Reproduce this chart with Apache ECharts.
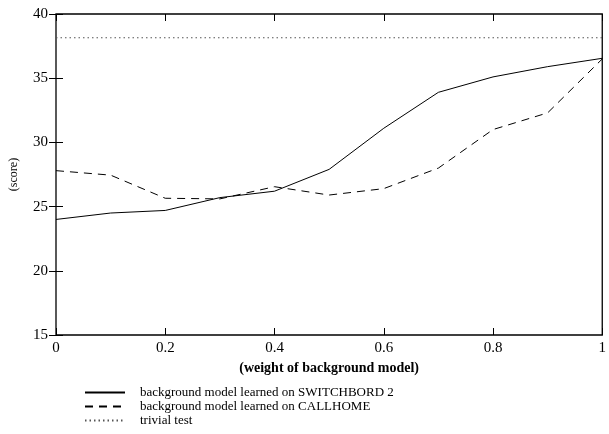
<!DOCTYPE html>
<html>
<head>
<meta charset="utf-8">
<script src="https://cdn.jsdelivr.net/npm/echarts@6/dist/echarts.min.js"></script>
<style>html,body{margin:0;padding:0;background:#fff;}#c{width:609px;height:434px;}</style>
</head>
<body>
<div id="c"></div>
<script>
var weights = [0, 0.1, 0.2, 0.3, 0.4, 0.5, 0.6, 0.7, 0.8, 0.9, 1.0];
var switchboard = [24.0, 24.5, 24.7, 25.7, 26.2, 27.9, 31.1, 33.9, 35.1, 35.9, 36.55];
var callhome = [27.8, 27.45, 25.65, 25.6, 26.55, 25.9, 26.4, 28.0, 31.0, 32.3, 36.5];
var trivialScore = 38.15;
var xTicks = [0, 0.2, 0.4, 0.6, 0.8, 1];
var yTicks = [15, 20, 25, 30, 35, 40];
var names = ['background model learned on SWITCHBORD 2', 'background model learned on CALLHOME', 'trivial test'];

function pairs(vals) { return weights.map(function (w, i) { return [w, vals[i]]; }); }
var FONT = '"Liberation Serif", "DejaVu Serif", serif';
var chart = echarts.init(document.getElementById('c'), null, {renderer: 'canvas'});
var axisCommon = {
  type: 'value',
  axisLine: {show: false},
  splitLine: {show: false},
  axisTick: {show: true, inside: true, length: 7, lineStyle: {color: '#000', width: 1}}
};
chart.setOption({
  animation: false,
  backgroundColor: '#fff',
  textStyle: {fontFamily: FONT},
  grid: {left: 56, right: 1, top: 14, bottom: 99, show: true, borderColor: '#000', borderWidth: 1.3, backgroundColor: 'transparent'},
  xAxis: [
    Object.assign({}, axisCommon, {
      min: xTicks[0], max: xTicks[xTicks.length - 1], interval: 0.2, position: 'bottom',
      name: '(weight of background model)', nameLocation: 'middle', nameGap: 26,
      nameTextStyle: {fontFamily: FONT, fontSize: 14, color: '#000', fontWeight: 'bold'},
      axisLabel: {fontFamily: FONT, fontSize: 15, color: '#000', margin: 6}
    }),
    Object.assign({}, axisCommon, {
      min: xTicks[0], max: xTicks[xTicks.length - 1], interval: 0.2, position: 'top',
      axisLabel: {show: false}
    })
  ],
  yAxis: [
    Object.assign({}, axisCommon, {
      min: yTicks[0], max: yTicks[yTicks.length - 1], interval: 5, position: 'left',
      name: '(score)', nameLocation: 'middle', nameGap: 36, nameRotate: 90,
      nameTextStyle: {fontFamily: FONT, fontSize: 12, color: '#000'},
      axisLabel: {fontFamily: FONT, fontSize: 15, color: '#000', margin: 8}
    }),
    Object.assign({}, axisCommon, {
      min: yTicks[0], max: yTicks[yTicks.length - 1], interval: 5, position: 'right',
      axisLabel: {show: false}
    })
  ],
  legend: {
    orient: 'vertical', left: 84, top: 386, itemWidth: 40, itemHeight: 8, itemGap: 1,
    data: names,
    itemStyle: {opacity: 0},
    textStyle: {fontFamily: FONT, fontSize: 13, color: '#000', padding: [0, 0, 0, 10]},
    padding: 0
  },
  series: [
    {name: names[0], type: 'line', data: pairs(switchboard), symbol: 'none',
     lineStyle: {color: '#000', width: 1, type: 'solid'}, itemStyle: {color: '#000'}},
    {name: names[1], type: 'line', data: pairs(callhome), symbol: 'none',
     lineStyle: {color: '#000', width: 1, type: [8, 6]}, itemStyle: {color: '#000'}},
    {name: names[2], type: 'line', data: weights.map(function (w) { return [w, trivialScore]; }), symbol: 'none',
     lineStyle: {color: '#555', width: 1, type: [1.5, 3]}, itemStyle: {color: '#555'}}
  ]
});
</script>
</body>
</html>
